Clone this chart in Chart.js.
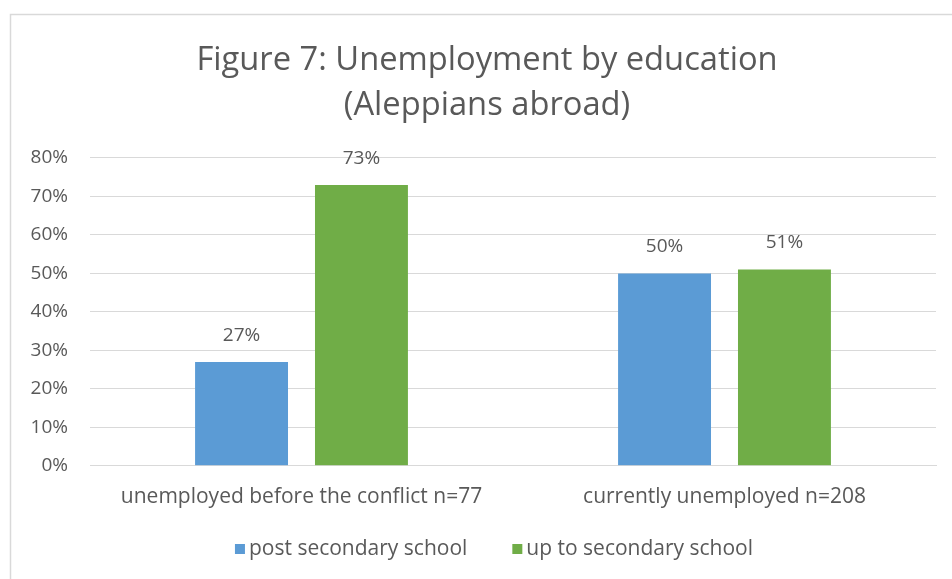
<!DOCTYPE html>
<html>
<head>
<meta charset="utf-8">
<script src="https://cdn.jsdelivr.net/npm/chart.js@4/dist/chart.umd.min.js"></script>
<style>
  html, body { margin: 0; padding: 0; background: #ffffff; }
  #wrap { width: 952px; height: 579px; position: relative; }
</style>
</head>
<body>
<div id="wrap"><canvas id="chart" width="952" height="579"></canvas></div>
<script>
// Chart data
const categories = ['unemployed before the conflict n=77', 'currently unemployed n=208'];
const postSecondary = [27, 50];
const upToSecondary = [73, 51];
const seriesNames = ['post secondary school', 'up to secondary school'];
const seriesColors = ['#5B9BD5', '#70AD47'];
const yTicks = [0, 10, 20, 30, 40, 50, 60, 70, 80];
const titleLines = ['Figure 7: Unemployment by education', '(Aleppians abroad)'];

const FONT = '"Open Sans", Lato, sans-serif';
const GREY = '#595959';

// light frame around the whole chart
const framePlugin = {
  id: 'frame',
  beforeDraw(chart) {
    const ctx = chart.ctx;
    ctx.save();
    ctx.fillStyle = '#ffffff';
    ctx.fillRect(0, 0, chart.width, chart.height);
    ctx.strokeStyle = '#d9d9d9';
    ctx.lineWidth = 1.5;
    ctx.strokeRect(10.5, 14.5, chart.width + 20, chart.height + 20);
    ctx.restore();
  }
};

// the frame runs past the right edge, so centre the title on the frame rather than the canvas
const titleCentre = {
  id: 'titleCentre',
  afterLayout(chart) {
    if (chart.titleBlock) {
      chart.titleBlock.left += 9;
      chart.titleBlock.right += 9;
    }
  }
};

// value labels above each bar
const valueLabels = {
  id: 'valueLabels',
  afterDatasetsDraw(chart) {
    const ctx = chart.ctx;
    ctx.save();
    ctx.font = '19px ' + FONT;
    ctx.fillStyle = GREY;
    ctx.textAlign = 'center';
    ctx.textBaseline = 'bottom';
    chart.data.datasets.forEach((ds, i) => {
      chart.getDatasetMeta(i).data.forEach((bar, j) => {
        ctx.fillText(ds.data[j] + '%', bar.x, bar.y - 17);
      });
    });
    ctx.restore();
  }
};

// series key under the axis: small squares with wide spacing between entries
const seriesKey = {
  id: 'seriesKey',
  afterDraw(chart) {
    const ctx = chart.ctx;
    const box = 10, textGap = 4, itemGap = 45;
    ctx.save();
    ctx.font = '21px ' + FONT;
    ctx.textBaseline = 'middle';
    ctx.textAlign = 'left';
    const items = chart.data.datasets.map(ds => ({
      label: ds.label, color: ds.backgroundColor,
      w: box + textGap + ctx.measureText(ds.label).width
    }));
    const total = items.reduce((s, it) => s + it.w, 0) + itemGap * (items.length - 1);
    const cx = (chart.chartArea.left + chart.chartArea.right) / 2 - 19;
    const y = chart.height - 30;
    let x = cx - total / 2;
    items.forEach(it => {
      ctx.fillStyle = it.color;
      ctx.fillRect(x, y - box / 2, box, box);
      ctx.fillStyle = GREY;
      ctx.fillText(it.label, x + box + textGap, y);
      x += it.w + itemGap;
    });
    ctx.restore();
  }
};

new Chart(document.getElementById('chart'), {
  type: 'bar',
  data: {
    labels: categories,
    datasets: [
      { label: seriesNames[0], data: postSecondary, backgroundColor: seriesColors[0] },
      { label: seriesNames[1], data: upToSecondary, backgroundColor: seriesColors[1] }
    ]
  },
  options: {
    responsive: false,
    animation: false,
    devicePixelRatio: 1,
    categoryPercentage: 0.567,
    barPercentage: 0.775,
    layout: { padding: { left: 20, right: 16, top: 38, bottom: 50 } },
    plugins: {
      tooltip: { enabled: false },
      legend: { display: false },
      title: {
        display: true,
        text: titleLines,
        color: GREY,
        font: { family: FONT, size: 32.7, weight: 'normal', lineHeight: 1.376 },
        padding: { top: 0, bottom: 30 }
      }
    },
    scales: {
      x: {
        grid: { display: false, drawTicks: false },
        border: { display: true, color: '#d9d9d9', width: 1 },
        ticks: { color: GREY, font: { family: FONT, size: 21 }, padding: 19 }
      },
      y: {
        min: 0,
        max: 80,
        afterFit(scale) { scale.width = 70; },
        afterBuildTicks(scale) { scale.ticks = yTicks.map(v => ({ value: v })); },
        grid: { color: '#d9d9d9', drawTicks: false },
        border: { display: false },
        ticks: {
          color: GREY,
          font: { family: FONT, size: 19 },
          padding: 22,
          callback: v => v + '%'
        }
      }
    }
  },
  plugins: [framePlugin, titleCentre, valueLabels, seriesKey]
});
</script>
</body>
</html>
